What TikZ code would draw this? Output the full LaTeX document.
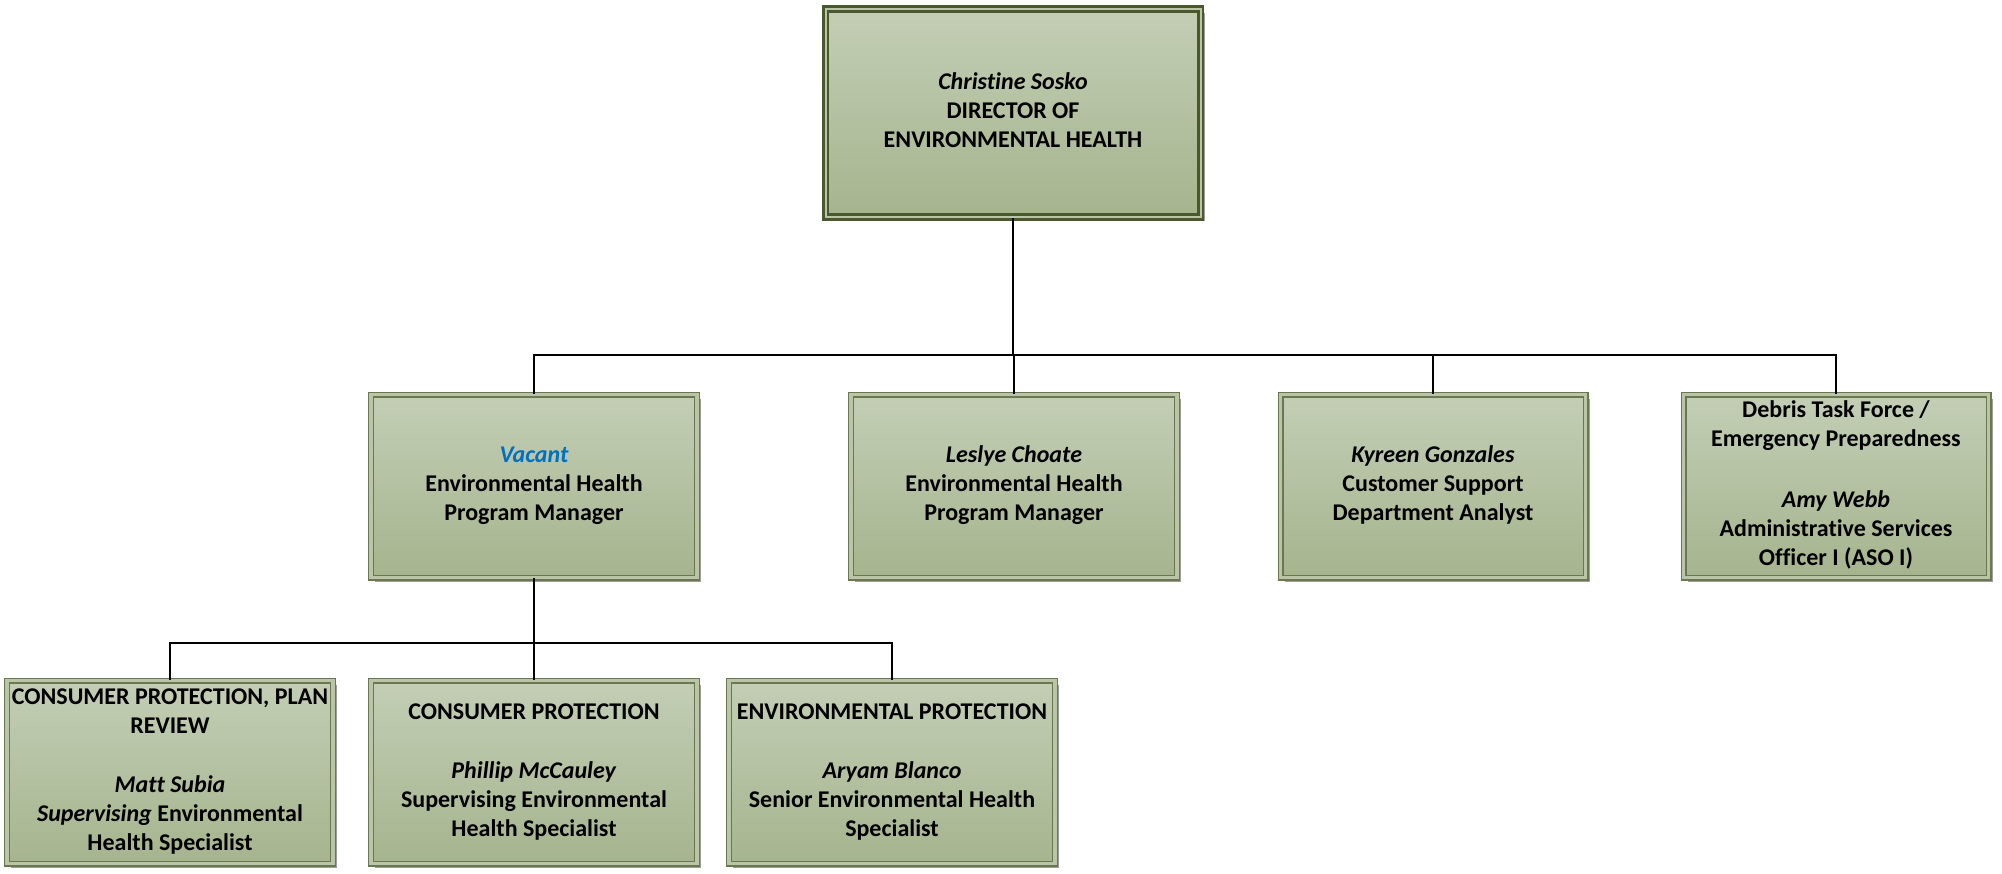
\documentclass[tikz,border=0pt]{standalone}
\usepackage{fontspec}
\setmainfont[Ligatures=NoCommon]{Carlito}
\usetikzlibrary{shadows}
\setlength{\tabcolsep}{0pt}
\definecolor{boxtop}{HTML}{C3CEB5}
\definecolor{boxbot}{HTML}{A6B48E}
\definecolor{boxline}{HTML}{6B7750}
\definecolor{boxgap}{HTML}{B9C5A6}
\definecolor{topline}{HTML}{4B572C}
\definecolor{vacant}{HTML}{0070C0}
\begin{document}
\begin{tikzpicture}[x=0.5pt, y=-0.5pt, node distance=240pt]
        \tikzstyle{block} = [rectangle, draw=boxline, line width=0.7pt, double=boxgap, double distance=1.6pt,
          top color=boxtop, bottom color=boxbot, minimum width=163pt, minimum height=91.5pt, inner sep=0pt,
          drop shadow={shadow xshift=2pt, shadow yshift=-2pt, fill=black!38, opacity=1},
          font=\bfseries\fontsize{12}{14.5}\selectfont]
        \tikzstyle{conn} = [line width=1pt]

        \useasboundingbox (0,0) rectangle (2002,873);

        \node [block, draw=topline, line width=1.4pt, double distance=1pt, minimum width=187.5pt,
          minimum height=104pt] (dir) at (1013,113) {%
          \begin{tabular}{c}
            \textit{Christine Sosko}\\
            DIRECTOR OF\\
            ENVIRONMENTAL HEALTH
          \end{tabular}
        };

        \node [block] (pm1) at (534,486) {%
          \begin{tabular}{c}
            \textit{\color{vacant}Vacant}\\
            Environmental Health\\
            Program Manager
          \end{tabular}
        };
        \node [block, right of=pm1, node distance=240pt] (pm2) {%
          \begin{tabular}{c}
            \textit{Leslye Choate}\\
            Environmental Health\\
            Program Manager
          \end{tabular}
        };
        \node [block, right of=pm2, node distance=209.5pt, minimum width=152.5pt] (analyst) {%
          \begin{tabular}{c}
            \textit{Kyreen Gonzales}\\
            Customer Support\\
            Department Analyst
          \end{tabular}
        };
        \node [block, right of=analyst, node distance=201.5pt, minimum width=152.5pt] (debris) {%
          \begin{tabular}{c}
            Debris Task Force /\\
            Emergency Preparedness\\[16pt]
            \textit{Amy Webb}\\
            Administrative Services\\
            Officer I (ASO I)
          \end{tabular}
        };

        \node [block] (cp1) at (170,772) {%
          \begin{tabular}{c}
            CONSUMER PROTECTION, PLAN\\
            REVIEW\\[15pt]
            \textit{Matt Subia}\\
            \textit{Supervising} Environmental\\
            Health Specialist
          \end{tabular}
        };
        \node [block, right of=cp1, node distance=182pt] (cp2) {%
          \begin{tabular}{c}
            CONSUMER PROTECTION\\[15pt]
            \textit{Phillip McCauley}\\
            Supervising Environmental\\
            Health Specialist
          \end{tabular}
        };
        \node [block, right of=cp2, node distance=179pt] (ep) {%
          \begin{tabular}{c}
            ENVIRONMENTAL PROTECTION\\[15pt]
            \textit{Aryam Blanco}\\
            Senior Environmental Health\\
            Specialist
          \end{tabular}
        };

        \coordinate (bus1) at (0,355);
        \coordinate (bus2) at (0,643);
        \foreach \n in {pm1, pm2, analyst, debris}
          \draw [conn] (dir.south) -- (dir.south |- bus1) -| (\n.north);
        \foreach \n in {cp1, cp2, ep}
          \draw [conn] (pm1.south) -- (pm1.south |- bus2) -| (\n.north);
    \end{tikzpicture}
\end{document}
